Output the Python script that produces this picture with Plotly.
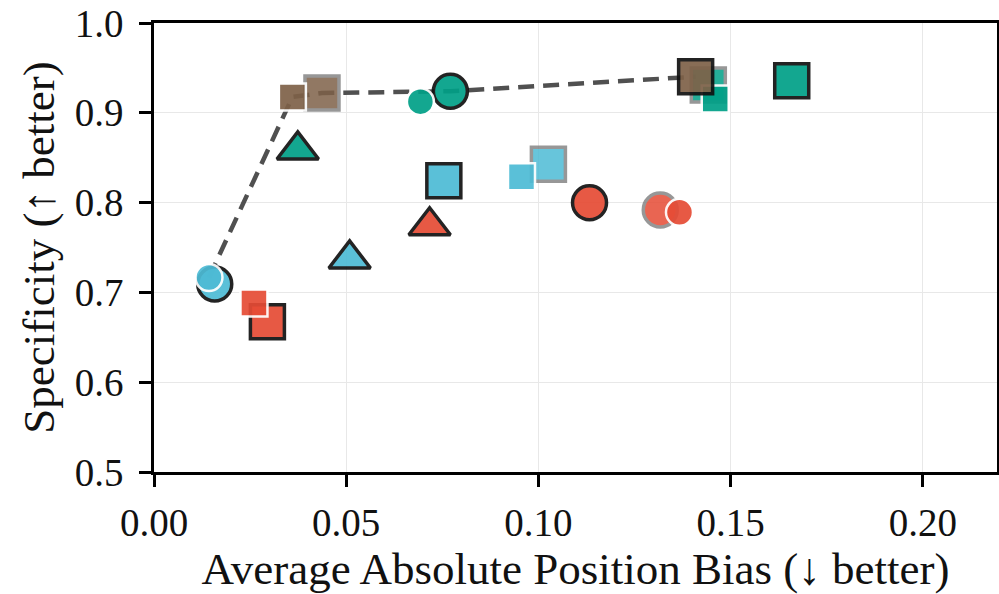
import plotly.graph_objects as go

# ---------------- data ----------------
TEAL_X = [0.0771, 0.0374, 0.1659, 0.1442, 0.0693, 0.1460]
TEAL_Y = [0.9240, 0.8586, 0.9356, 0.9310, 0.9124, 0.9154]
TEAL_SYMBOL = ["circle", "triangle-up", "square", "square", "circle", "square"]
TEAL_EDGE = ["black", "black", "black", "gray", "white", "white"]

BLUE_X = [0.0754, 0.0509, 0.0158, 0.1026, 0.0956, 0.0143]
BLUE_Y = [0.8243, 0.7372, 0.7094, 0.8428, 0.8288, 0.7166]
BLUE_SYMBOL = ["square", "triangle-up", "circle", "square", "square", "circle"]
BLUE_EDGE = ["black", "black", "black", "gray", "white", "white"]

RED_X = [0.0717, 0.0295, 0.1133, 0.1317, 0.0260, 0.1367]
RED_Y = [0.7742, 0.6674, 0.7999, 0.7918, 0.6882, 0.7892]
RED_SYMBOL = ["triangle-up", "square", "circle", "circle", "square", "circle"]
RED_EDGE = ["black", "black", "black", "gray", "white", "white"]

BROWN_X = [0.1409, 0.0437, 0.0360]
BROWN_Y = [0.9402, 0.9220, 0.9176]
BROWN_SYMBOL = ["square", "square", "square"]
BROWN_EDGE = ["black", "gray", "white"]

X_TICKS = [0.00, 0.05, 0.10, 0.15, 0.20]
Y_TICKS = [0.5, 0.6, 0.7, 0.8, 0.9, 1.0]
X_TITLE = "Average Absolute Position Bias (\u2193 better)"
Y_TITLE = "Specificity (\u2191 better)"

# ---------------- styles ----------------
COLORS = {"teal": "#00A087", "blue": "#4DBBD5", "red": "#E64B35", "brown": "#7E6148"}
EDGE_STYLE = {
    "gray": dict(size=34, lw=3.5, lc="#858585", op=0.85),
    "black": dict(size=34, lw=3.5, lc="#111111", op=0.92),
    "white": dict(size=27, lw=2.5, lc="#ffffff", op=0.92),
}
FONT = "Liberation Serif, Times New Roman, serif"

series = [
    ("teal", TEAL_X, TEAL_Y, TEAL_SYMBOL, TEAL_EDGE),
    ("blue", BLUE_X, BLUE_Y, BLUE_SYMBOL, BLUE_EDGE),
    ("red", RED_X, RED_Y, RED_SYMBOL, RED_EDGE),
    ("brown", BROWN_X, BROWN_Y, BROWN_SYMBOL, BROWN_EDGE),
]

fig = go.Figure()

# Pareto frontier (computed from all points)
allpts = []
for _, xs, ys, _, _ in series:
    allpts += list(zip(xs, ys))
allpts.sort()
front = []
best = -1
for px, py in allpts:
    if py > best:
        front.append((px, py))
        best = py
fig.add_trace(go.Scatter(
    x=[p[0] for p in front], y=[p[1] for p in front], mode="lines",
    line=dict(color="#505050", width=4.5, dash="16px,9px"),
    hoverinfo="skip", showlegend=False))

for cname, xs, ys, syms, edges in series:
    for edge in ["gray", "black", "white"]:
        idx = [i for i, e in enumerate(edges) if e == edge]
        if not idx:
            continue
        st = EDGE_STYLE[edge]
        sizes = [st["size"] if syms[i] != "triangle-up" else st["size"] + 2 for i in idx]
        fig.add_trace(go.Scatter(
            x=[xs[i] for i in idx], y=[ys[i] for i in idx], mode="markers",
            marker=dict(symbol=[syms[i] for i in idx], size=sizes,
                        color=COLORS[cname], opacity=st["op"],
                        line=dict(color=st["lc"], width=st["lw"])),
            showlegend=False))

axis_common = dict(
    showline=True, linewidth=2.5, linecolor="black", mirror=True,
    ticks="outside", ticklen=12, tickwidth=2.5, tickcolor="black",
    showgrid=True, gridcolor="#e8e8e8", gridwidth=1, zeroline=False,
    ticklabeloverflow="allow",
    tickfont=dict(family=FONT, size=39, color="#111111"),
)

fig.update_layout(
    width=999, height=594,
    margin=dict(l=154, r=2, t=23, b=122),
    paper_bgcolor="white", plot_bgcolor="white",
    font=dict(family=FONT, color="#111111"),
    hovermode=False,
    xaxis=dict(range=[0, 0.2193], tickvals=X_TICKS, tickformat=".2f",
               ticklabelstandoff=2,
               title=dict(text=X_TITLE, font=dict(family=FONT, size=45), standoff=10),
               automargin=False, **axis_common),
    yaxis=dict(range=[0.5, 1.0], tickvals=Y_TICKS, tickformat=".1f",
               ticklabelstandoff=8,
               title=dict(text=Y_TITLE, font=dict(family=FONT, size=45), standoff=6),
               automargin=False, **axis_common),
)

# remove the default 8px page margin so the figure fills the 999x594 window
fig.write_html("out.html", config={"displayModeBar": False},
               post_script="document.body.style.margin='0';document.body.style.overflow='hidden';")
